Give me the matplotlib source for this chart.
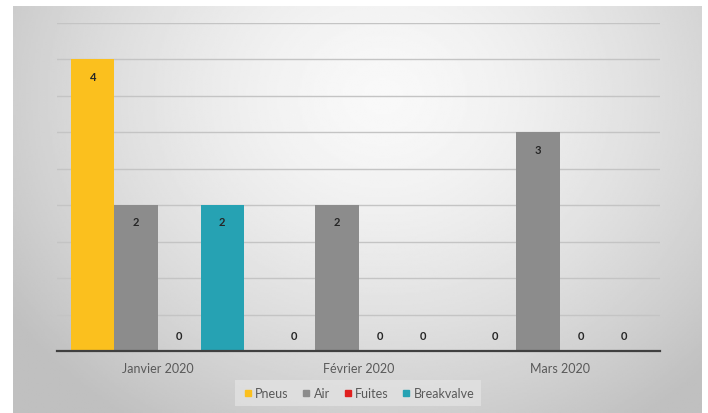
import matplotlib
matplotlib.use('Agg')
import matplotlib.pyplot as plt
import numpy as np

months = ['Janvier 2020', 'Février 2020', 'Mars 2020']
series_names = ['Pneus', 'Air', 'Fuites', 'Breakvalve']
pneus = [4, 0, 0]
air = [2, 2, 3]
fuites = [0, 0, 0]
breakvalve = [2, 0, 0]
colors = ['#FBC01E', '#8C8C8C', '#E0201F', '#26A2B3']

plt.rcParams['font.family'] = ['Lato', 'DejaVu Sans']

W, H = 708, 414
fig = plt.figure(figsize=(W / 100, H / 100), dpi=100)
fig.patch.set_facecolor('white')

# radial grey gradient behind the chart area
bg = fig.add_axes([13 / W, 0, (702 - 13) / W, (414 - 7) / H])
gx, gy = np.meshgrid(np.linspace(0, 689, 400), np.linspace(0, 407, 240))
dist = np.sqrt(((gx - 370) / 460) ** 2 + ((gy - 90) / 400) ** 2)
shade = np.clip(0.975 - 0.23 * dist ** 1.5, 0.75, 0.975)
bg.imshow(shade, cmap='gray', vmin=0, vmax=1, aspect='auto',
          extent=[0, 1, 0, 1], origin='upper')
bg.set_axis_off()

ax = fig.add_axes([57 / W, (414 - 352) / H, (660 - 57) / W, (352 - 24) / H])
ax.set_facecolor('none')

x = np.arange(len(months))
w = 0.214
all_series = [pneus, air, fuites, breakvalve]
for i, (name, vals) in enumerate(zip(series_names, all_series)):
    pos = x + (i - 1.5) * w
    ax.bar(pos, vals, w, color=colors[i], label=name, zorder=3)
    for px, v in zip(pos, vals):
        off = -12 if v > 0 else 11
        ax.annotate(str(v), (px, v), xytext=(0, off), textcoords='offset points',
                    ha='center', va='center', fontsize=8, fontweight='bold',
                    color='#262626', zorder=4)

ax.set_xlim(-0.5, 2.5)
ax.set_ylim(0, 4.5)
ax.set_yticks(np.arange(0, 4.51, 0.5))
ax.yaxis.grid(True, color='#C4C4C4', linewidth=1.0, zorder=0)
ax.tick_params(axis='y', left=False, labelleft=False)
ax.tick_params(axis='x', length=0, pad=8, labelsize=9, labelcolor='#595959')
ax.set_xticks(x)
ax.set_xticklabels(months)
for s in ['top', 'right', 'left']:
    ax.spines[s].set_visible(False)
ax.spines['bottom'].set_color('#404040')
ax.spines['bottom'].set_linewidth(1.6)
ax.spines['bottom'].set_zorder(5)

handles = [plt.Line2D([], [], marker='s', linestyle='none', markersize=5,
                      color=c) for c in colors]
leg = fig.legend(handles, series_names, loc='center', ncol=4,
                 bbox_to_anchor=(358 / W, (414 - 394) / H), fontsize=9,
                 frameon=True, handletextpad=0.1, columnspacing=0.9,
                 borderpad=0.35, handlelength=1.0)
leg.get_frame().set_facecolor('#E4E4E4')
leg.get_frame().set_edgecolor('none')
leg.get_frame().set_alpha(0.7)
leg.get_frame().set_boxstyle('square', pad=0.2)
for t in leg.get_texts():
    t.set_color('#595959')

fig.savefig('out.png', dpi=100)
